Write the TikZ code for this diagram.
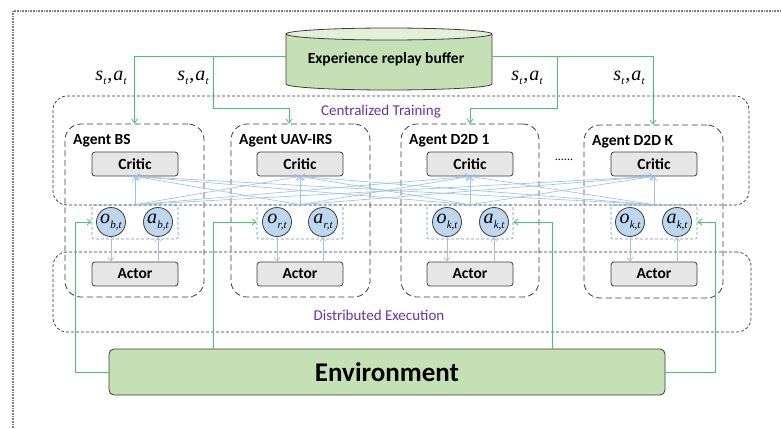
\documentclass[tikz,border=0pt]{standalone}
\usepackage{fontspec}
\setmainfont{Carlito}
\newfontfamily\tms{Liberation Serif}
\newcommand\myv[2]{{\tms\itshape #1\kern0.3pt\raisebox{-0.5ex}{\fontsize{11}{11}\selectfont #2}}}
\usetikzlibrary{arrows.meta,calc}
\definecolor{gline}{RGB}{64,200,110}
\definecolor{bline}{RGB}{155,194,232}
\definecolor{boxfill}{RGB}{231,230,230}
\definecolor{circfill}{RGB}{189,215,238}
\definecolor{envfill}{RGB}{197,224,180}
\definecolor{cyltop}{RGB}{226,240,217}
\definecolor{purp}{RGB}{112,48,160}
\definecolor{obsdash}{RGB}{110,145,185}
\definecolor{dk}{RGB}{60,60,60}
\begin{document}
\begin{tikzpicture}[x=1pt,y=-1pt,
  panel/.style={draw=dk,fill=boxfill,rounded corners=3pt,line width=0.8pt,minimum width=86pt,minimum height=24pt,inner sep=0pt,font=\fontsize{15.5}{15.5}\selectfont\bfseries},
  agentbox/.style={draw=dk,dash pattern=on 6pt off 3.5pt,rounded corners=16pt,line width=0.8pt,minimum height=173pt,inner sep=0pt},
  region/.style={draw=black!80,dash pattern=on 3pt off 2pt,rounded corners=14pt,line width=0.7pt,inner sep=0pt},
  obsbox/.style={draw=obsdash,dash pattern=on 3pt off 2pt,rounded corners=2pt,line width=0.6pt,minimum width=86pt,minimum height=34pt,inner sep=0pt},
  circ/.style={circle,draw=dk,fill=circfill,line width=0.8pt,minimum size=29pt,inner sep=0pt,font=\fontsize{20}{20}\selectfont},
  agtitle/.style={anchor=west,inner sep=0pt,font=\fontsize{15.5}{15.5}\selectfont\bfseries},
  regionlabel/.style={text=purp,inner sep=0pt,font=\fontsize{15}{15}\selectfont},
  glink/.style={draw=gline,line width=0.8pt,-{Straight Barb[length=4pt,width=6pt]}},
  fan/.style={draw=bline,line width=0.65pt,-{Straight Barb[length=4pt,width=6pt]}},
  salabel/.style={inner sep=0pt,font=\fontsize{20}{20}\selectfont}
]
\useasboundingbox (0,0) rectangle (781,428);

% outer dotted frame (cut off at right and bottom)
\draw[gray,line width=1.2pt,dash pattern=on 0.8pt off 0.8pt] (13,428) -- (13,11) -- (781,11);

% region boxes
\node[region,minimum width=696pt,minimum height=109pt] (ct) at (401,150.5) {};
\node[region,minimum width=698pt,minimum height=80pt] (de) at (402,292) {};
\node[regionlabel] (ctl) at (381,112) {Centralized Training};
\node[regionlabel] (del) at (379,315) {Distributed Execution};

% cylinder
\fill[envfill] (286,34) -- (286,84) arc[start angle=180,end angle=0,x radius=103,y radius=6] -- (492,34) -- cycle;
\draw[dk,line width=0.8pt] (286,34) -- (286,84) arc[start angle=180,end angle=0,x radius=103,y radius=6] -- (492,34);
\draw[dk,line width=0.8pt,fill=cyltop] (389,34) ellipse[x radius=103,y radius=6];
\node[inner sep=0pt,font=\fontsize{15.5}{15.5}\selectfont\bfseries] (buf) at (386,59) {Experience replay buffer};
\coordinate (bufL) at (286,56);
\coordinate (bufR) at (492,56);
\coordinate (j1) at (213,56);
\coordinate (k1) at (213,108);
\coordinate (j2) at (557,56);
\coordinate (k2) at (557,108);

% agent boxes
\node[agentbox,minimum width=139pt] (ag1) at (134.5,210.5) {};
\node[agentbox,minimum width=139pt] (ag2) at (300.5,210.5) {};
\node[agentbox,minimum width=138pt] (ag3) at (470,210.5) {};
\node[agentbox,minimum width=139pt] (ag4) at (653.5,211.5) {};
\node[agtitle] (t1) at (73,141) {Agent BS};
\node[agtitle] (t2) at (239,141) {Agent UAV-IRS};
\node[agtitle] (t3) at (409,141) {Agent D2D 1};
\node[agtitle] (t4) at (592,142) {Agent D2D K};
\node[inner sep=0pt,font=\fontsize{12}{12}\selectfont] (dots) at (564,160) {......};

% critics, actors, obs boxes
\foreach \i/\cx in {1/135,2/300,3/470,4/654}{
  \node[panel] (critic\i) at (\cx,164) {Critic};
  \node[panel] (actor\i) at (\cx,274) {Actor};
  \node[obsbox] (obs\i) at (\cx,222) {};
}

% fan connections
\foreach \i in {1,2,3,4}{
  \foreach \j in {1,2,3,4}{
    \draw[fan] (obs\i.north) -- (critic\j.south);
  }
}

% circles
\node[circ] (o1) at (111,222) {\myv{o}{b,t}};
\node[circ] (a1) at (158,222) {\myv{a}{b,t}};
\node[circ] (o2) at (277,222) {\myv{o}{r,t}};
\node[circ] (a2) at (323,222) {\myv{a}{r,t}};
\node[circ] (o3) at (447,222) {\myv{o}{k,t}};
\node[circ] (a3) at (494,222) {\myv{a}{k,t}};
\node[circ] (o4) at (630,222) {\myv{o}{k,t}};
\node[circ] (a4) at (677,222) {\myv{a}{k,t}};
\foreach \i in {1,2,3,4}{
  \draw[fan] (o\i.south) -- (o\i.south |- actor\i.north);
  \draw[fan] (a\i.south |- actor\i.north) -- (a\i.south);
}

% replay buffer to agents
\draw[glink] (bufL) -| (ag1.north);
\draw[glink] (j1) -- (k1) -| ([xshift=-11.5pt]ag2.north);
\draw[glink] (bufR) -| ([xshift=-0.5pt]ag4.north);
\draw[glink] (j2) -- (k2) -| (ag3.north);
\node[salabel] (sa1) at (111,78) {\myv{s}{t}\kern1pt{\tms,}\kern1pt\myv{a}{t}};
\node[salabel] (sa2) at (193,78) {\myv{s}{t}\kern1pt{\tms,}\kern1pt\myv{a}{t}};
\node[salabel] (sa3) at (527,78) {\myv{s}{t}\kern1pt{\tms,}\kern1pt\myv{a}{t}};
\node[salabel] (sa4) at (629,78) {\myv{s}{t}\kern1pt{\tms,}\kern1pt\myv{a}{t}};

% environment
\node[draw=dk,fill=envfill,rounded corners=5pt,line width=0.8pt,minimum width=556pt,minimum height=46pt,inner sep=0pt,font=\fontsize{27}{27}\selectfont\bfseries] (env) at (387,372) {Environment};
\draw[glink] (env.west) -- ++(-33,0) |- (obs1.west);
\draw[glink] ([xshift=-174pt]env.north) |- (obs2.west);
\draw[glink] ([xshift=165pt]env.north) |- (obs3.east);
\draw[glink] (env.east) -- ++(50,0) |- (obs4.east);
\end{tikzpicture}
\end{document}
